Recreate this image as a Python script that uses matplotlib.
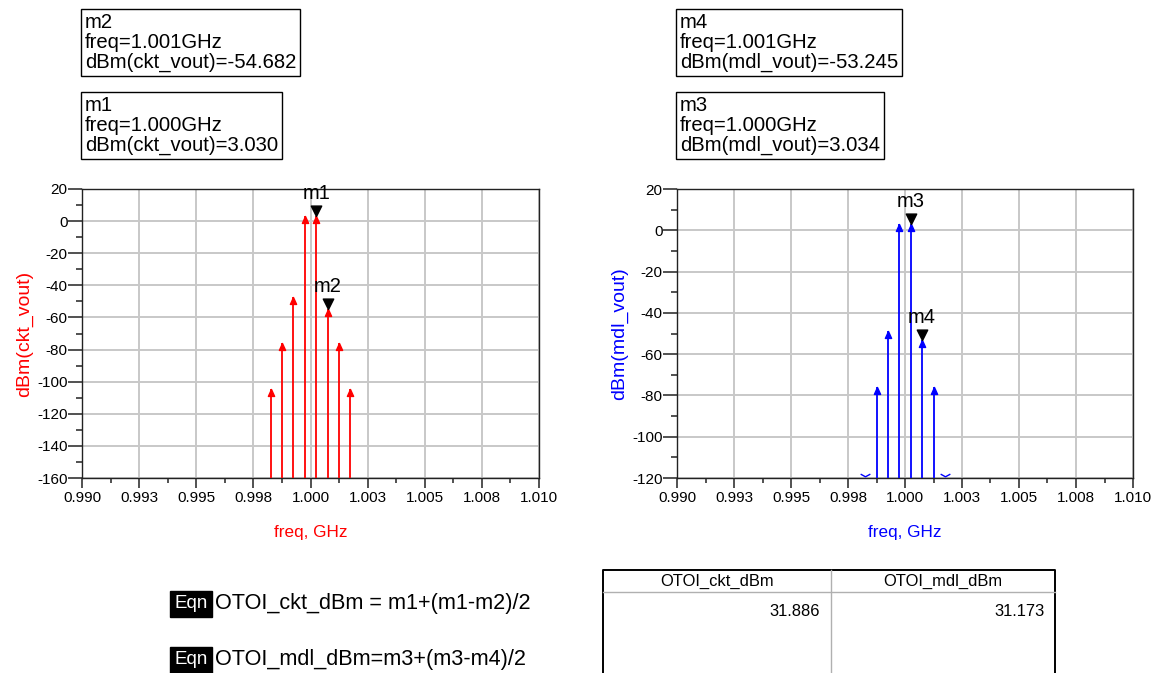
#coding:UTF-8

import numpy as np
import matplotlib
matplotlib.use('Agg')
import matplotlib.pyplot as plt
from matplotlib.path import Path
from matplotlib import font_manager

# spectrum data
freq_ckt = [0.99825, 0.99875, 0.99925, 0.99975, 1.00025, 1.00075, 1.00125, 1.00175]
dbm_ckt = [-104.5, -76.0, -47.5, 3.0, 3.030, -54.682, -75.7, -104.5]

freq_mdl = [0.99825, 0.99875, 0.99925, 0.99975, 1.00025, 1.00075, 1.00125, 1.00175]
dbm_mdl = [-130.0, -76.0, -49.0, 3.0, 3.034, -53.245, -75.8, -130.0]

xticks = [0.990, 0.9925, 0.995, 0.9975, 1.000, 1.0025, 1.005, 1.0075, 1.010]
xticklabels = ['0.990', '0.993', '0.995', '0.998', '1.000', '1.003', '1.005', '1.008', '1.010']

markers_ckt = {'m1': 4, 'm2': 5}
markers_mdl = {'m3': 4, 'm4': 5}

box_m2 = ['m2', 'freq=1.001GHz', 'dBm(ckt_vout)=-54.682']
box_m1 = ['m1', 'freq=1.000GHz', 'dBm(ckt_vout)=3.030']
box_m4 = ['m4', 'freq=1.001GHz', 'dBm(mdl_vout)=-53.245']
box_m3 = ['m3', 'freq=1.000GHz', 'dBm(mdl_vout)=3.034']

eqn1 = 'OTOI_ckt_dBm = m1+(m1-m2)/2'
eqn2 = 'OTOI_mdl_dBm=m3+(m3-m4)/2'
table_cols = ['OTOI_ckt_dBm', 'OTOI_mdl_dBm']
table_vals = ['31.886', '31.173']

W, H = 1157, 673

# arrow head with tip at the data point
arrow_up = Path([(0, 0), (-0.45, -1), (0.45, -1), (0, 0)],
                [Path.MOVETO, Path.LINETO, Path.LINETO, Path.CLOSEPOLY])
tri_down = Path([(0, 0), (-0.5, 1), (0.5, 1), (0, 0)],
                [Path.MOVETO, Path.LINETO, Path.LINETO, Path.CLOSEPOLY])
chevron = Path([(-1, 0.9), (0, 0.35), (1, 0.9)],
               [Path.MOVETO, Path.LINETO, Path.LINETO])


def fx(x):
    return x / W


def fy(y):
    return 1 - y / H


def narrowFont():
    names = set(f.name for f in font_manager.fontManager.ttflist)
    if 'Liberation Sans Narrow' in names:
        return 'Liberation Sans Narrow', 1.0
    return 'Liberation Sans', 0.82


def drawSpectrum(fig, rect, freq, vals, ylo, color, ylabel, mk):
    ax = fig.add_axes(rect)
    ax.set_xlim(0.990, 1.010)
    ax.set_ylim(ylo, 20)
    ax.set_xticks(xticks)
    ax.set_xticklabels(xticklabels)
    ax.set_xticks(np.array(xticks[:-1]) + 0.00125, minor=True)
    ax.set_yticks(np.arange(ylo, 21, 20))
    ax.set_yticks(np.arange(ylo + 10, 20, 20), minor=True)
    ax.grid(True, which='major', color='#c8c8c8', lw=1.4, zorder=0)
    ax.set_axisbelow(True)
    for s in ax.spines.values():
        s.set_linewidth(1.0)
        s.set_color('#222222')
    ax.tick_params(axis='x', which='major', direction='out', length=7.5, width=1.2,
                   labelsize=11, pad=2, color='#333333')
    ax.tick_params(axis='x', which='minor', direction='out', length=3.8, width=1.2, color='#333333')
    ax.tick_params(axis='y', which='major', direction='out', length=10, width=1.2,
                   labelsize=11, pad=0.5, color='#333333')
    ax.tick_params(axis='y', which='minor', direction='out', length=4.5, width=1.2, color='#333333')

    freq = np.array(freq)
    vals = np.array(vals)
    inside = vals >= ylo
    ax.vlines(freq[inside], ylo, vals[inside], color=color, lw=1.3, zorder=3)
    ax.plot(freq[inside], vals[inside], ls='none', marker=arrow_up, ms=10,
            color=color, mec=color, zorder=4)
    if (~inside).any():
        ax.plot(freq[~inside], np.full((~inside).sum(), ylo), ls='none', marker=chevron,
                ms=7, mfc='none', mec=color, mew=1.0, zorder=4, clip_on=False)

    for name, i in mk.items():
        ax.plot(freq[i], vals[i], marker=tri_down, ms=15, color='black', zorder=5)
        ax.annotate(name, (freq[i], vals[i]), xytext=(0, 13), textcoords='offset pixels',
                    ha='center', va='bottom', fontsize=14.5, color='black', zorder=6)

    ax.set_ylabel(ylabel, color=color, fontsize=14, labelpad=3)
    ax.set_xlabel('freq, GHz', color=color, fontsize=12.3, labelpad=14)
    return ax


def markerBox(fig, x, y, lines):
    fig.text(fx(x), fy(y), '\n'.join(lines), ha='left', va='top', fontsize=14.6,
             linespacing=1.05,
             bbox=dict(boxstyle='square,pad=0.2', fc='white', ec='black', lw=1.0))


def eqnLine(fig, x, y, text, fam, scale):
    fig.text(fx(x + 19), fy(y), 'Eqn', ha='center', va='center', fontsize=13.5,
             family=fam, color='white',
             bbox=dict(boxstyle='square,pad=0.22', fc='black', ec='black'))
    fig.text(fx(x + 43), fy(y), text, ha='left', va='center', fontsize=19 * scale,
             family=fam, color='black')


def tableLine(fig, xs, ys, color, lw):
    fig.add_artist(plt.Line2D([fx(v) for v in xs], [fy(v) for v in ys],
                              transform=fig.transFigure, color=color, lw=lw))


if __name__ == '__main__':

    plt.rcParams['font.family'] = ['Liberation Sans', 'DejaVu Sans']
    plt.rcParams['axes.unicode_minus'] = False

    fig = plt.figure(figsize=(W / 100, H / 100), dpi=100)

    drawSpectrum(fig, [fx(82), fy(478), 457 / W, 289 / H], freq_ckt, dbm_ckt, -160,
                 '#ff0000', 'dBm(ckt_vout)', markers_ckt)
    drawSpectrum(fig, [fx(677), fy(478), 456 / W, 289 / H], freq_mdl, dbm_mdl, -120,
                 '#0000ff', 'dBm(mdl_vout)', markers_mdl)

    markerBox(fig, 85, 13, box_m2)
    markerBox(fig, 85, 96, box_m1)
    markerBox(fig, 680, 13, box_m4)
    markerBox(fig, 680, 96, box_m3)

    fam, scale = narrowFont()
    eqnLine(fig, 172, 604, eqn1, fam, scale)
    eqnLine(fig, 172, 660, eqn2, fam, scale)

    # result table, its bottom is cut by the picture edge
    tx0, tx1, tmid, ty0, tyh = 603, 1055, 831, 570, 592
    tableLine(fig, [tx0, tx0, tx1, tx1], [H + 5, ty0, ty0, H + 5], 'black', 1.4)
    tableLine(fig, [tx0, tx1], [tyh, tyh], '#b0b0b0', 1.0)
    tableLine(fig, [tmid, tmid], [ty0, H + 5], '#b0b0b0', 1.0)
    fig.text(fx((tx0 + tmid) / 2), fy(581), table_cols[0], ha='center', va='center',
             fontsize=14.5 * scale, family=fam)
    fig.text(fx((tmid + tx1) / 2), fy(581), table_cols[1], ha='center', va='center',
             fontsize=14.5 * scale, family=fam)
    fig.text(fx(tmid - 11), fy(611), table_vals[0], ha='right', va='center',
             fontsize=14.5 * scale, family=fam)
    fig.text(fx(tx1 - 10), fy(611), table_vals[1], ha='right', va='center',
             fontsize=14.5 * scale, family=fam)

    plt.savefig('out.png', dpi=100)
    plt.close()
